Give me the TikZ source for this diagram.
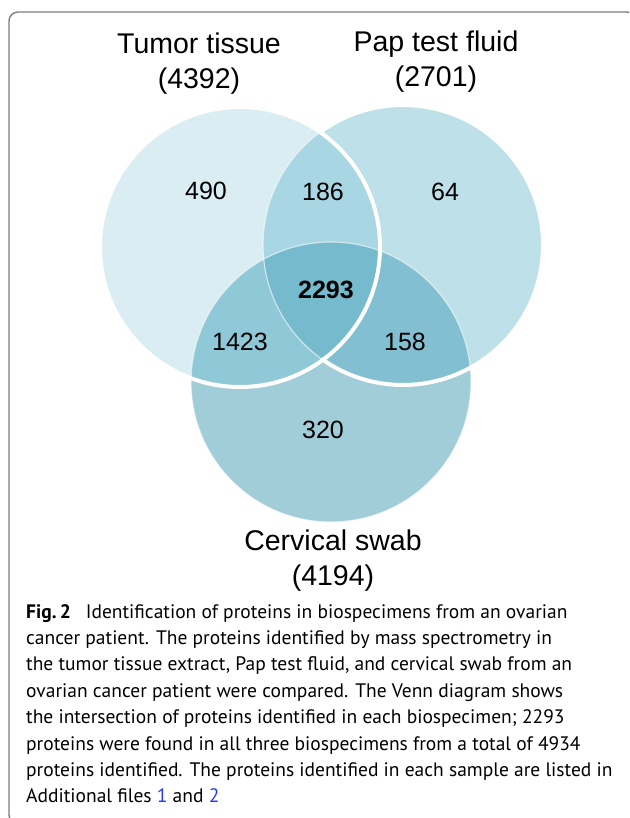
\documentclass[tikz,border=0pt]{standalone}
\usepackage{fontspec}
\setmainfont{Liberation Sans}
\newfontfamily\capfont{PT Sans}
\usetikzlibrary{positioning}
\definecolor{tonly}{RGB}{218,237,243}
\definecolor{ponly}{RGB}{190,224,232}
\definecolor{conly}{RGB}{161,205,216}
\definecolor{tpboth}{RGB}{168,214,226}
\definecolor{tcboth}{RGB}{143,200,214}
\definecolor{pcboth}{RGB}{130,191,208}
\definecolor{allthree}{RGB}{118,186,206}
\definecolor{framegray}{RGB}{125,125,125}
\definecolor{linkblue}{RGB}{45,60,235}
\tikzset{
  setlbl/.style={font=\fontsize{28.5}{35}\selectfont, align=center, inner sep=0pt},
  cntlbl/.style={font=\fontsize{25}{30}\selectfont, inner sep=0pt},
  thinedge/.style={draw=white, draw opacity=0.6, line width=1.2},
  thickedge/.style={draw=white, line width=4},
  capbox/.style={font=\capfont\fontsize{19.5}{26.4}\selectfont, align=left,
    inner sep=0pt, anchor=north west},
}

\begin{document}
\begin{tikzpicture}[x=1pt, y=-1pt]
  \useasboundingbox (0,0) rectangle (629,818);
  \clip (0,0) rectangle (629,818);
  % Frame
  \draw[framegray, line width=1.4, rounded corners=9pt] (9,12) rectangle (636,824);
  % Circle centres
  \coordinate (Tc) at (240,247);
  \coordinate (Pc) at (403,245);
  \coordinate (Cc) at (331,382);
  \def\rad{140}
  % Single sets
  \fill[tonly] (Tc) circle[radius=\rad];
  \fill[ponly] (Pc) circle[radius=\rad];
  \fill[conly] (Cc) circle[radius=\rad];
  % Overlaps
  \begin{scope}
    \clip (Pc) circle[radius=\rad];
    \fill[pcboth] (Cc) circle[radius=\rad];
  \end{scope}
  \begin{scope}
    \clip (Tc) circle[radius=\rad];
    \fill[tpboth] (Pc) circle[radius=\rad];
    \fill[tcboth] (Cc) circle[radius=\rad];
    \clip (Pc) circle[radius=\rad];
    \fill[allthree] (Cc) circle[radius=\rad];
  \end{scope}
  % Outlines
  \draw[thinedge] (Cc) circle[radius=\rad];
  \draw[thinedge] (Pc) circle[radius=\rad];
  \draw[thickedge] (Pc) ++(-125.6:\rad) arc[start angle=-125.6, end angle=125.6, radius=\rad];
  \draw[thickedge] (Tc) circle[radius=\rad];
  % Set names
  \node[setlbl] (Tlab) at (199,64) {Tumor tissue\\(4392)};
  \node[setlbl] (Plab) at (436,62) {Pap test fluid\\(2701)};
  \node[setlbl] (Clab) at (333,561) {Cervical swab\\(4194)};
  % Counts
  \node[cntlbl] (Tonly) at (206,191) {490};
  \node[cntlbl] (TP)    at (323,192) {186};
  \node[cntlbl] (Ponly) at (445,192) {64};
  \node[cntlbl] (TPC)   at (326,290) {\bfseries 2293};
  \node[cntlbl] (TC)    at (240,342) {1423};
  \node[cntlbl] (PC)    at (405,342) {158};
  \node[cntlbl] (Conly) at (323,430) {320};
  % Caption
  \node[capbox] (cap) at (26,604) {%
    \textbf{Fig.\,2}\hspace{0.5em} Identification of proteins in biospecimens from an ovarian\\
    cancer patient. The proteins identified by mass spectrometry in\\
    the tumor tissue extract, Pap test fluid, and cervical swab from an\\
    ovarian cancer patient were compared. The Venn diagram shows\\
    the intersection of proteins identified in each biospecimen; 2293\\
    proteins were found in all three biospecimens from a total of 4934\\
    proteins identified. The proteins identified in each sample are listed in\\
    Additional files \textcolor{linkblue}{1} and \textcolor{linkblue}{2}};
\end{tikzpicture}
\end{document}
